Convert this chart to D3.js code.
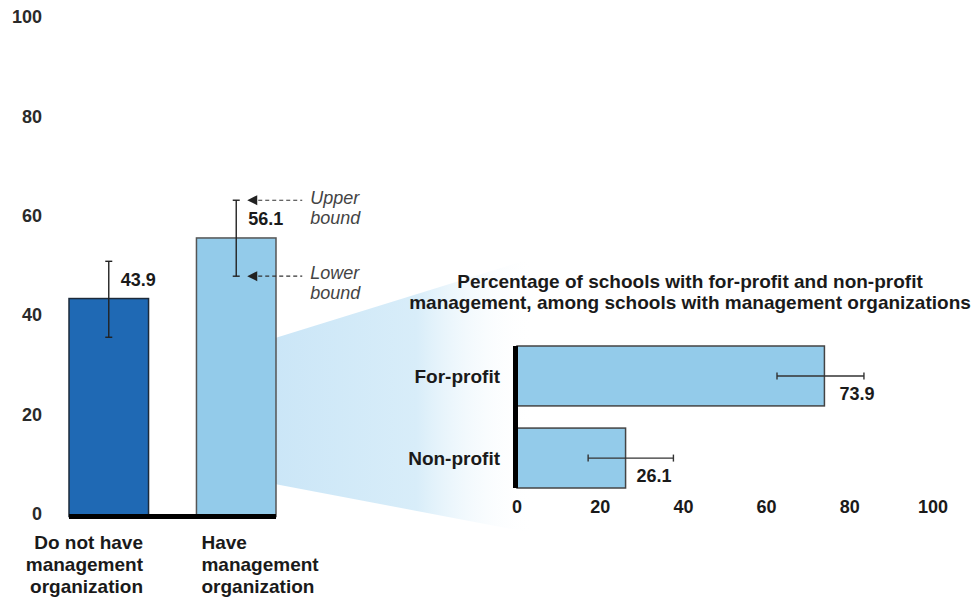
<!DOCTYPE html>
<html>
<head>
<meta charset='UTF-8'>
<title>Management organizations</title>
<script src='https://cdn.jsdelivr.net/npm/d3@7'></script>
<style>
  body {margin:0; background:#fff;}
  text {font-family:'Liberation Sans', Arial, sans-serif;}
  .bold {font-weight:bold; font-size:18px; fill:#1a1a1a;}
  .lab {font-weight:bold; font-size:19px; fill:#1a1a1a;}
  .note {font-style:italic; font-size:18px; fill:#444;}
</style>
</head>
<body>
<div id='chart'></div>
<script>
// left chart: all schools
var groups = ['Do not have management organization', 'Have management organization'];
var groupLines = [['Do not have', 'management', 'organization'], ['Have', 'management', 'organization']];
var groupValues = [43.9, 56.1];
var groupLow = [36.1, 48.4];
var groupHigh = [51.4, 63.7];
var leftTicks = [0, 20, 40, 60, 80, 100];

// right chart: schools with management organizations
var types = ['For-profit', 'Non-profit'];
var typeValues = [73.9, 26.1];
var typeLow = [62.5, 17.1];
var typeHigh = [83.4, 37.6];
var rightTicks = [0, 20, 40, 60, 80, 100];

var title = ['Percentage of schools with for-profit and non-profit',
             'management, among schools with management organizations'];

var width = 978, height = 597;
var capW = 3.5;

var svg = d3.select('#chart').append('svg')
  .attr('width', width)
  .attr('height', height);

/* Scales */
var x1 = d3.scaleBand().domain(groups).range([69, 276]).paddingInner(0.376).paddingOuter(0);
var y1 = d3.scaleLinear().domain([0, 100]).range([516.5, 20]);

var x2 = d3.scaleLinear().domain([0, 100]).range([517, 933]);
var y2 = d3.scaleBand().domain(types).range([346, 488]).paddingInner(0.27).paddingOuter(0);

/* Wedge linking the bar to the detail chart */
var grad = svg.append('defs').append('linearGradient')
  .attr('id', 'wedge')
  .attr('x1', '0%').attr('x2', '100%').attr('y1', '0%').attr('y2', '0%');
grad.append('stop').attr('offset', '0%').attr('stop-color', '#cbe6f7');
grad.append('stop').attr('offset', '50%').attr('stop-color', '#d8edf9');
grad.append('stop').attr('offset', '92%').attr('stop-color', '#ffffff').attr('stop-opacity', 0);

var wx0 = x1(groups[1]) + x1.bandwidth();
var wx1 = x2(0) + 40;
svg.append('path')
  .attr('d', d3.line()([
    [wx0, y1(36)], [wx1, y1(36) - 0.31 * (wx1 - wx0)],
    [wx1, y1(6.5) + 0.19 * (wx1 - wx0)], [wx0, y1(6.5)]
  ]) + 'Z')
  .attr('fill', 'url(#wedge)');

/* Left chart */
var left = svg.append('g');

left.selectAll('.ytick')
  .data(leftTicks).enter()
  .append('text')
  .attr('class', 'bold')
  .attr('x', 42)
  .attr('y', d => y1(d) - 3)
  .attr('dy', '0.35em')
  .attr('text-anchor', 'end')
  .style('fill', '#2a2a2a')
  .text(d => d);

left.selectAll('.bar')
  .data(groups).enter()
  .append('rect')
  .attr('x', d => x1(d))
  .attr('y', (d, i) => y1(groupValues[i]))
  .attr('width', x1.bandwidth())
  .attr('height', (d, i) => y1(0) - y1(groupValues[i]))
  .attr('fill', (d, i) => i == 0 ? '#1f69b4' : '#93cbea')
  .attr('stroke', (d, i) => i == 0 ? '#1c2a3a' : '#555')
  .attr('stroke-width', 1.5);

// baseline
left.append('line')
  .attr('x1', x1.range()[0]).attr('x2', x1.range()[1])
  .attr('y1', y1(0)).attr('y2', y1(0))
  .attr('stroke', '#000').attr('stroke-width', 5);

// error bars
var eb1 = left.selectAll('.err')
  .data(groups).enter()
  .append('g')
  .attr('stroke', '#222').attr('stroke-width', 1.4);
eb1.append('line')
  .attr('x1', d => x1(d) + x1.bandwidth() / 2).attr('x2', d => x1(d) + x1.bandwidth() / 2)
  .attr('y1', (d, i) => y1(groupLow[i])).attr('y2', (d, i) => y1(groupHigh[i]));
eb1.append('line')
  .attr('x1', d => x1(d) + x1.bandwidth() / 2 - capW).attr('x2', d => x1(d) + x1.bandwidth() / 2 + capW)
  .attr('y1', (d, i) => y1(groupLow[i])).attr('y2', (d, i) => y1(groupLow[i]));
eb1.append('line')
  .attr('x1', d => x1(d) + x1.bandwidth() / 2 - capW).attr('x2', d => x1(d) + x1.bandwidth() / 2 + capW)
  .attr('y1', (d, i) => y1(groupHigh[i])).attr('y2', (d, i) => y1(groupHigh[i]));

// value labels
left.selectAll('.val')
  .data(groups).enter()
  .append('text')
  .attr('class', 'bold')
  .attr('x', d => x1(d) + x1.bandwidth() / 2 + 12)
  .attr('y', (d, i) => y1(groupValues[i]) - 19)
  .attr('dy', '0.35em')
  .text((d, i) => groupValues[i].toFixed(1));

// category labels
groupLines.forEach(function(lines, i) {
  var lx = i == 0 ? x1(groups[0]) + 74 : x1(groups[1]) + 5;
  var t = left.append('text')
    .attr('class', 'lab')
    .attr('text-anchor', i == 0 ? 'end' : 'start')
    .attr('x', lx);
  lines.forEach(function(s, j) {
    t.append('tspan')
      .attr('x', lx)
      .attr('y', 542 + j * 22)
      .attr('dy', '0.35em')
      .text(s);
  });
});

// upper / lower bound notes
var bx = x1(groups[1]) + x1.bandwidth() / 2;
[['Upper', groupHigh[1]], ['Lower', groupLow[1]]].forEach(function(n) {
  var yy = y1(n[1]);
  var g = left.append('g');
  g.append('path')
    .attr('d', d3.line()([[bx + 11, yy], [bx + 21, yy - 5], [bx + 21, yy + 5]]) + 'Z')
    .attr('fill', '#222');
  g.append('line')
    .attr('x1', bx + 22).attr('x2', bx + 66)
    .attr('y1', yy).attr('y2', yy)
    .attr('stroke', '#333').attr('stroke-width', 1.2)
    .attr('stroke-dasharray', '4,3');
  g.append('text').attr('class', 'note')
    .attr('x', bx + 74).attr('y', yy - 3).attr('dy', '0.35em').text(n[0]);
  g.append('text').attr('class', 'note')
    .attr('x', bx + 74).attr('y', yy + 17).attr('dy', '0.35em').text('bound');
});

/* Right chart */
var right = svg.append('g');

right.selectAll('.title')
  .data(title).enter()
  .append('text')
  .attr('class', 'lab')
  .attr('x', 690)
  .attr('y', (d, i) => 281 + i * 21)
  .attr('dy', '0.35em')
  .attr('text-anchor', 'middle')
  .text(d => d);

right.selectAll('.hbar')
  .data(types).enter()
  .append('rect')
  .attr('x', x2(0))
  .attr('y', d => y2(d))
  .attr('width', (d, i) => x2(typeValues[i]) - x2(0))
  .attr('height', y2.bandwidth())
  .attr('fill', '#93cbea')
  .attr('stroke', '#444')
  .attr('stroke-width', 1.5);

right.append('line')
  .attr('x1', x2(0) - 1.5).attr('x2', x2(0) - 1.5)
  .attr('y1', y2.range()[0]).attr('y2', y2.range()[1])
  .attr('stroke', '#000').attr('stroke-width', 5);

var eb2 = right.selectAll('.herr')
  .data(types).enter()
  .append('g')
  .attr('stroke', '#333').attr('stroke-width', 1.4);
eb2.append('line')
  .attr('x1', (d, i) => x2(typeLow[i])).attr('x2', (d, i) => x2(typeHigh[i]))
  .attr('y1', d => y2(d) + 30).attr('y2', d => y2(d) + 30);
eb2.append('line')
  .attr('x1', (d, i) => x2(typeLow[i])).attr('x2', (d, i) => x2(typeLow[i]))
  .attr('y1', d => y2(d) + 30 - capW).attr('y2', d => y2(d) + 30 + capW);
eb2.append('line')
  .attr('x1', (d, i) => x2(typeHigh[i])).attr('x2', (d, i) => x2(typeHigh[i]))
  .attr('y1', d => y2(d) + 30 - capW).attr('y2', d => y2(d) + 30 + capW);

right.selectAll('.hval')
  .data(types).enter()
  .append('text')
  .attr('class', 'bold')
  .attr('x', (d, i) => x2(typeValues[i]) + (i == 0 ? 15 : 11))
  .attr('y', d => y2(d) + 48)
  .attr('dy', '0.35em')
  .text((d, i) => typeValues[i].toFixed(1));

right.selectAll('.cat')
  .data(types).enter()
  .append('text')
  .attr('class', 'lab')
  .attr('x', 500)
  .attr('y', d => y2(d) + y2.bandwidth() / 2)
  .attr('dy', '0.35em')
  .attr('text-anchor', 'end')
  .text(d => d);

right.selectAll('.xtick')
  .data(rightTicks).enter()
  .append('text')
  .attr('class', 'bold')
  .attr('x', d => x2(d))
  .attr('y', 507)
  .attr('dy', '0.35em')
  .attr('text-anchor', 'middle')
  .text(d => d);
</script>
</body>
</html>
